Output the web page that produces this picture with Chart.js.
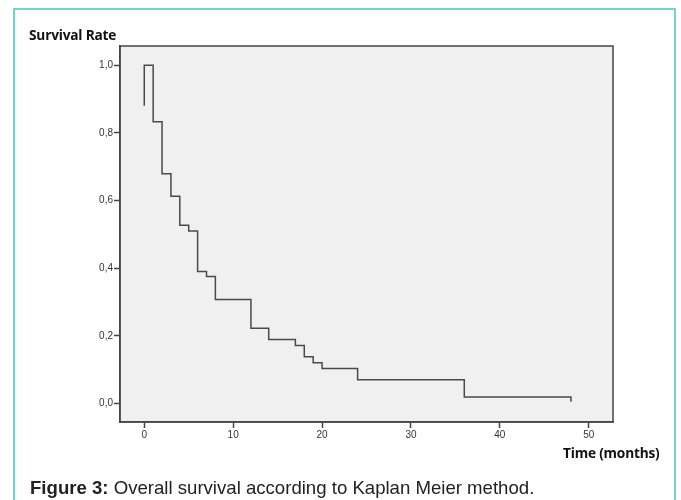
<!DOCTYPE html>
<html>
<head>
<meta charset="utf-8">
<script src="https://cdn.jsdelivr.net/npm/chart.js@4"></script>
<style>
  body { margin: 0; background: #fff; }
  #wrap { position: relative; width: 681px; height: 500px; overflow: hidden; }
  #frame { position: absolute; left: 13px; top: 8px; width: 663px; height: 520px;
           border: 2px solid #72d5c9; box-sizing: border-box; }
  canvas { position: absolute; left: 0; top: 0; }
  .lbl { position: absolute; font-family: "Open Sans", Lato, sans-serif; font-weight: bold;
         font-size: 13.7px; color: #111; white-space: nowrap; letter-spacing: -0.2px; }
  #caption { position: absolute; left: 30px; top: 477px; font-family: "Liberation Sans", Arial, sans-serif;
             font-size: 18.6px; color: #222; white-space: nowrap; }
</style>
</head>
<body>
<div id="wrap">
  <div id="frame"></div>
  <canvas id="kmChart" width="681" height="500"></canvas>
  <div class="lbl" style="left:29px; top:25px;">Survival Rate</div>
  <div class="lbl" style="left:563px; top:443px;">Time (months)</div>
  <div id="caption"><b>Figure 3:</b> Overall survival according to Kaplan Meier method.</div>
</div>
<script>
    // Kaplan-Meier steps
    var months = [0, 0, 1, 2, 3, 4, 5, 6, 7, 8, 12, 14, 17, 18, 19, 20, 24, 36, 48];
    var survival = [0.88, 1.0, 0.833, 0.679, 0.613, 0.527, 0.510, 0.390, 0.375, 0.307,
                    0.222, 0.189, 0.171, 0.138, 0.120, 0.103, 0.070, 0.019, 0.005];
    var xTicks = [0, 10, 20, 30, 40, 50];
    var yTicks = [0, 0.2, 0.4, 0.6, 0.8, 1.0];

    var points = months.map(function(m, i) { return {x: m, y: survival[i]}; });

    var plotBox = {
        id: 'plotBox',
        beforeDraw: function(chart) {
            var a = chart.chartArea, ctx = chart.ctx;
            ctx.save();
            ctx.fillStyle = '#f0f0f0';
            ctx.fillRect(a.left, a.top, a.right - a.left, a.bottom - a.top);
            ctx.restore();
        },
        afterDraw: function(chart) {
            var a = chart.chartArea, ctx = chart.ctx;
            ctx.save();
            ctx.strokeStyle = '#444';
            ctx.lineWidth = 1.5;
            ctx.strokeRect(a.left, a.top, a.right - a.left, a.bottom - a.top);
            ctx.restore();
        }
    };

    window.onload = function() {
        new Chart("kmChart", {
            type: 'line',
            data: {
                datasets: [{
                    data: points,
                    stepped: 'before',
                    borderColor: '#4a4a4a',
                    borderWidth: 1.5,
                    pointRadius: 0,
                    fill: false
                }]
            },
            options: {
                responsive: false,
                animation: false,
                layout: { padding: { left: 0, right: 68, top: 46, bottom: 0 } },
                plugins: { legend: { display: false }, tooltip: { enabled: false } },
                scales: {
                    x: {
                        type: 'linear',
                        min: -2.73,
                        max: 52.73,
                        afterFit: function(s) { s.height = 78; },
                        afterBuildTicks: function(s) {
                            s.ticks = xTicks.map(function(v) { return {value: v}; });
                        },
                        grid: { drawOnChartArea: false, tickLength: 6, tickColor: '#444', tickWidth: 1.5 },
                        border: { color: '#444', width: 1.5 },
                        ticks: {
                            padding: 1,
                            color: '#333',
                            font: { family: 'Liberation Sans', size: 10 },
                            maxRotation: 0
                        }
                    },
                    y: {
                        min: -0.055,
                        max: 1.057,
                        afterFit: function(s) { s.width = 120; },
                        afterBuildTicks: function(s) {
                            s.ticks = yTicks.map(function(v) { return {value: v}; });
                        },
                        grid: { drawOnChartArea: false, tickLength: 6, tickColor: '#444', tickWidth: 1.5 },
                        border: { color: '#444', width: 1.5 },
                        ticks: {
                            padding: 1,
                            color: '#333',
                            font: { family: 'Liberation Sans', size: 10 },
                            callback: function(v) { return v.toFixed(1).replace('.', ','); }
                        }
                    }
                }
            },
            plugins: [plotBox]
        });
    };
</script>
</body>
</html>
